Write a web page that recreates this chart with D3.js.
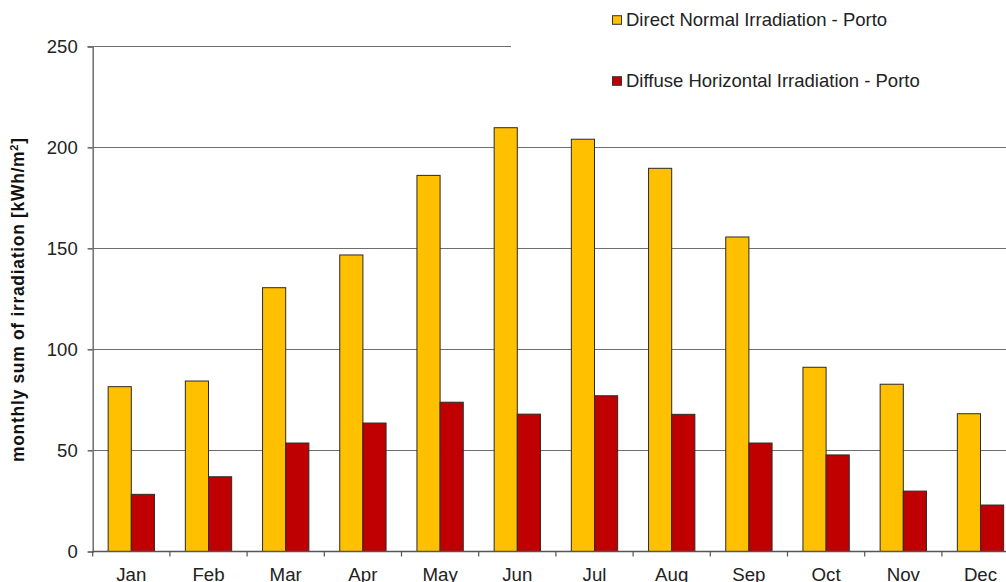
<!DOCTYPE html>
<html><head><meta charset="utf-8">
<script src="https://cdn.jsdelivr.net/npm/d3@7"></script>
<style>html,body{margin:0;padding:0;background:#fff;overflow:hidden}</style>
</head><body>
<svg id="c" width="1006" height="582"></svg>
<script>
const months = ["Jan","Feb","Mar","Apr","May","Jun","Jul","Aug","Sep","Oct","Nov","Dec"];
const seriesNames = ["Direct Normal Irradiation - Porto","Diffuse Horizontal Irradiation - Porto"];
const directNormal = [81.6,84.4,130.6,146.8,186.2,209.8,204.1,189.7,155.7,91.2,82.8,68.2];
const diffuseHorizontal = [28.3,37.0,53.7,63.6,73.9,68.0,77.1,67.9,53.7,47.8,29.9,23.0];
const yTicks = [0,50,100,150,200,250];
const colors = ["#FFC000","#C00000"];

const svg = d3.select("#c");
const font = "'Liberation Sans', Arial, sans-serif";
const left = 92.7, step = 77.2, plotRight = left + step*12;
const x0 = d3.scaleBand().domain(months).range([left, plotRight]).paddingInner(0.4).paddingOuter(0.2);
const x1 = d3.scaleBand().domain([0,1]).range([0, x0.bandwidth()]);
const y = d3.scaleLinear().domain([0,250]).range([551.5, 46.5]);

// gridlines
svg.append("g").selectAll("line").data(yTicks.filter(d=>d>0)).join("line")
  .attr("x1", left-5).attr("x2", plotRight)
  .attr("y1", d=>y(d)).attr("y2", d=>y(d))
  .attr("stroke","#6e6e6e").attr("stroke-width",1.2);

// y axis
const yAxis = d3.axisLeft(y).tickValues(yTicks).tickSize(5).tickPadding(10);
const gy = svg.append("g").attr("transform",`translate(${left},0)`).call(yAxis);
gy.select(".domain").attr("stroke","#6e6e6e").attr("stroke-width",1.5);
gy.selectAll(".tick line").attr("stroke","#6e6e6e").attr("stroke-width",1.2);
gy.selectAll(".tick text").attr("font-family",font).attr("font-size",18.5).attr("fill","#222");

// bars
const data = months.map((m,i)=>({m, v:[directNormal[i], diffuseHorizontal[i]]}));
const groups = svg.append("g").selectAll("g").data(data).join("g")
  .attr("transform", d=>`translate(${x0(d.m)},0)`);
groups.selectAll("rect").data(d=>d.v.map((v,k)=>({v,k}))).join("rect")
  .attr("x", d=>x1(d.k)).attr("width", x1.bandwidth())
  .attr("y", d=>y(d.v)).attr("height", d=>y(0)-y(d.v))
  .attr("fill", d=>colors[d.k]).attr("stroke","#2a2a2a").attr("stroke-width",1);

// x axis
const gx = svg.append("g");
gx.append("line").attr("x1",left).attr("x2",plotRight).attr("y1",y(0)).attr("y2",y(0))
  .attr("stroke","#555").attr("stroke-width",1.5);
const bounds = months.map(m=>x0(m) - (x0.step()-x0.bandwidth())/2);
gx.selectAll("line.tk").data(bounds).join("line").attr("class","tk")
  .attr("x1",d=>d).attr("x2",d=>d).attr("y1",y(0)).attr("y2",y(0)+5)
  .attr("stroke","#555").attr("stroke-width",1.2);
gx.selectAll("text").data(months).join("text")
  .attr("x", m=>x0(m)+x0.bandwidth()/2).attr("y", 580.5)
  .attr("text-anchor","middle").attr("font-family",font).attr("font-size",18.7).attr("fill","#222")
  .text(m=>m);

// y title
svg.append("text").attr("transform","translate(24,300) rotate(-90)")
  .attr("text-anchor","middle").attr("font-family",font).attr("font-size",17.5)
  .attr("font-weight","bold").attr("fill","#111")
  .attr("textLength",324).attr("lengthAdjust","spacing")
  .html("monthly sum of irradiation [kWh/m<tspan baseline-shift='super' font-size='11'>2</tspan>]");

// legend
const lg = svg.append("g");
lg.append("rect").attr("x",511).attr("y",0).attr("width",495).attr("height",110).attr("fill","#fff");
const items = lg.selectAll("g").data(seriesNames).join("g")
  .attr("transform",(d,i)=>`translate(612.5,${15.7+i*61})`);
items.append("rect").attr("width",9).attr("height",8.6).attr("fill",(d,i)=>colors[i]).attr("stroke","#333").attr("stroke-width",1);
items.append("text").attr("x",13.5).attr("y",10).attr("font-family",font).attr("font-size",18.5).attr("fill","#222").text(d=>d);
</script>
</body></html>
